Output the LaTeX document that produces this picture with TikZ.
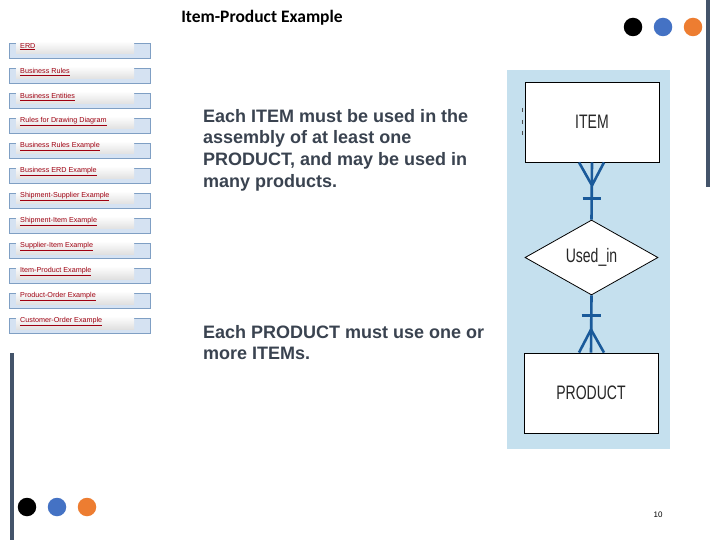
\documentclass[tikz,border=0pt]{standalone}
\usepackage{fontspec}
\setmainfont{Liberation Sans}
\newfontfamily\titlefont{Carlito}
\newfontfamily\erfont[FakeStretch=0.72]{Liberation Sans}
\usetikzlibrary{shapes.geometric,calc}
\definecolor{btnfill}{HTML}{D5E2F2}
\definecolor{btnedge}{HTML}{7F9FC4}
\definecolor{linkred}{HTML}{A00010}
\definecolor{bodytext}{HTML}{3A4350}
\definecolor{panel}{HTML}{C5E0EE}
\definecolor{erblue}{HTML}{1A5A9A}
\definecolor{barcol}{HTML}{44546A}
\definecolor{dotblue}{HTML}{4472C4}
\definecolor{dotorange}{HTML}{ED7D31}
\tikzset{
  btnbox/.style={draw=btnedge, fill=btnfill, line width=0.8pt},
  btntab/.style={top color=white, bottom color=white!88!black, draw=none},
  btntext/.style={anchor=west, inner sep=0pt, font=\fontsize{7.2}{8}\selectfont, text=linkred},
  bodytxt/.style={anchor=north west, align=left, inner sep=0pt, text=bodytext, font=\fontsize{18}{21.7}\selectfont\bfseries},
  entity/.style={draw=black, fill=white, line width=0.8pt, minimum width=134pt, minimum height=80pt, inner sep=0pt, font=\erfont\fontsize{19.5}{20}\selectfont, text=black!85},
  relship/.style={diamond, draw=black, fill=white, line width=0.8pt, aspect=1.77, minimum width=133pt, minimum height=75pt, inner sep=0pt, font=\erfont\fontsize{19.5}{20}\selectfont, text=black!85},
  erline/.style={draw=erblue, line width=2.6pt},
  dot/.style={circle, inner sep=0pt, minimum size=18.5pt}
}
\begin{document}
\begin{tikzpicture}[x=1pt,y=-1pt]
\useasboundingbox (0,0) rectangle (720,540);
\fill[white] (0,0) rectangle (720,540);

% title
\node[font=\titlefont\bfseries\fontsize{17.5}{19}\selectfont, inner sep=0pt] (title) at (262,18) {Item-Product Example};

% top-right dots and bar
\node[dot, fill=black] (d1) at (633,27) {};
\node[dot, fill=dotblue] (d2) at (663,27) {};
\node[dot, fill=dotorange] (d3) at (693,27) {};
\fill[barcol] (706,0) rectangle (709.5,187);

% bottom-left dots and bar
\fill[barcol] (10,353) rectangle (14,540);
\node[dot, fill=black] (e1) at (27,507) {};
\node[dot, fill=dotblue] (e2) at (57,507) {};
\node[dot, fill=dotorange] (e3) at (87,507) {};

% menu buttons
\foreach \lbl [count=\i] in {ERD,Business Rules,Business Entities,Rules for Drawing Diagram,Business Rules Example,Business ERD Example,Shipment-Supplier Example,Shipment-Item Example,Supplier-Item Example,Item-Product Example,Product-Order Example,Customer-Order Example}{
  \pgfmathsetmacro{\yt}{43.5+25*(\i-1)}
  \path[btnbox] (9.5,\yt) rectangle (150,\yt+14.5);
  \path[btntab] (16,\yt-2.5) rectangle (134,\yt+10.5);
  \node[btntext] (b\i) at (20,\yt+3.2) {\underline{\lbl}};
}

% body text
\node[bodytxt] (t1) at (203,109) {Each ITEM must be used in the\\assembly of at least one\\PRODUCT, and may be used in\\many products.};
\node[bodytxt] (t2) at (203,325) {Each PRODUCT must use one or\\more ITEMs.};

% ER panel
\fill[panel] (507,70) rectangle (670,448.5);
\foreach \yy in {110,122,133}{\draw[black!70, line width=1pt] (522.5,\yy-2) -- (522.5,\yy+2);}
\node[entity] (item) at (592,122) {ITEM};
\node[relship] (used) at (591.5,257.5) {Used\_in};
\node[entity] (product) at (591,393) {PRODUCT};

% connectors
\draw[erline] (item.south) -- (used.north);
\draw[erline] ($(item.south)+(0,23)$) -- ($(item.south)+(-13,0)$);
\draw[erline] ($(item.south)+(0,23)$) -- ($(item.south)+(12,0)$);
\draw[erline] ($(item.south)+(-9.5,36)$) -- ($(item.south)+(9,36)$);
\draw[erline] (used.south) -- (product.north);
\draw[erline] ($(product.north)+(0,-23)$) -- ($(product.north)+(-12,0)$);
\draw[erline] ($(product.north)+(0,-23)$) -- ($(product.north)+(13,0)$);
\draw[erline] ($(product.north)+(-9.5,-37)$) -- ($(product.north)+(10,-37)$);

% page number
\node[font=\fontsize{8}{9}\selectfont, inner sep=0pt] (pg) at (658,515) {10};
\end{tikzpicture}
\end{document}
